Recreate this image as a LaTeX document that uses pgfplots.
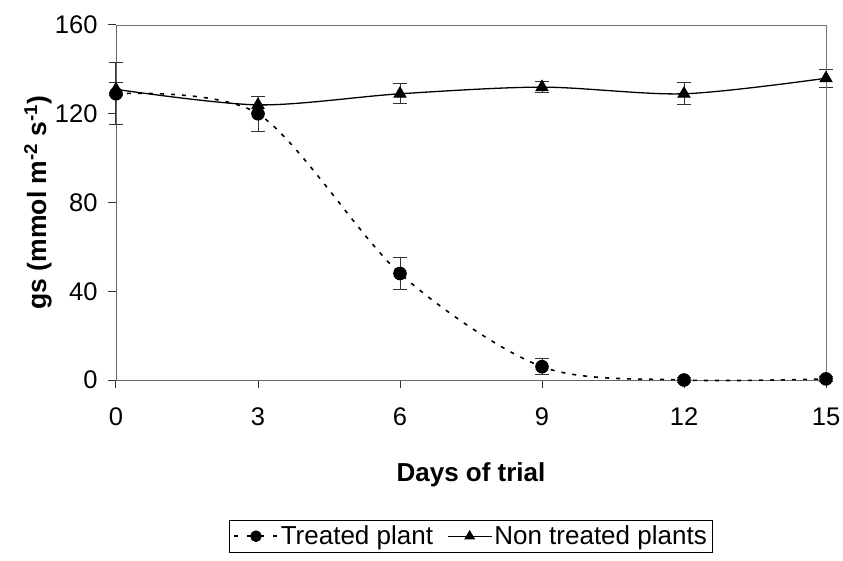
\documentclass[border=0pt]{standalone}
\usepackage{fontspec}
\setmainfont{Liberation Sans}
\usepackage{pgfplots}
\pgfplotsset{compat=1.18}
\begin{document}
\begin{tikzpicture}
\begin{axis}[
  name=ax,
  scale only axis,
  width=710pt, height=355pt,
  xmin=0, xmax=15, ymin=0, ymax=160,
  xtick={0,3,6,9,12,15},
  ytick={0,40,80,120,160},
  tick align=outside,
  tick pos=left,
  major tick length=8pt,
  tick style={line width=1pt, color=black!80},
  axis line style={line width=0.8pt, color=black!60},
  /pgf/number format/assume math mode=true,
  font=\fontsize{25}{29}\selectfont,
  ticklabel style={font=\fontsize{25.5}{29}\selectfont},
  yticklabel style={xshift=-7pt},
  xticklabel style={yshift=-16pt},
  xlabel={\textbf{Days of trial}},
  ylabel={\textbf{gs (mmol m\textsuperscript{-2} s\textsuperscript{-1})}},
  xlabel style={at={(axis description cs:0.5,-0.268)}, anchor=center, font=\fontsize{26}{30}\selectfont},
  ylabel style={at={(axis description cs:-0.11,0.5)}, anchor=center, rotate=0, font=\fontsize{26.5}{30}\selectfont},
  clip=false,
  legend columns=2,
  legend style={
    at={(axis description cs:0.5,-0.44)}, anchor=center,
    draw=black, line width=0.8pt,
    font=\fontsize{26}{30}\selectfont,
    /tikz/every even column/.append style={column sep=12pt},
    inner sep=4pt,
  },
  legend image code/.code={%
    \draw[#1, mark repeat=2, mark phase=2]
      plot coordinates {(0pt,0pt) (22pt,0pt) (44pt,0pt)};%
  },
]
% treated plants
\addplot[
  forget plot,
  black, line width=1.6pt, dash pattern=on 4pt off 7pt, smooth,
  mark=*, mark size=6pt, mark options={solid, fill=black},
  error bars/.cd, y dir=both, y explicit,
  error bar style={line width=1pt, solid, black!80},
  error mark options={rotate=90, mark size=7pt, line width=1pt, black!80},
] coordinates {
  (0,129) +- (0,14)
  (3,120) +- (0,8)
  (6,48)  +- (0,7)
  (9,6)   +- (0,3.5)
  (12,0)  +- (0,1)
  (15,0.5) +- (0,1)
};
% non-treated plants
\addplot[
  forget plot,
  black, line width=1.3pt, smooth,
  mark=triangle*, mark size=6.5pt, mark options={solid, fill=black},
  error bars/.cd, y dir=both, y explicit,
  error bar style={line width=1pt, solid, black!80},
  error mark options={rotate=90, mark size=7pt, line width=1pt, black!80},
] coordinates {
  (0,131)  +- (0,3)
  (3,124)  +- (0,4)
  (6,129)  +- (0,4.5)
  (9,132)  +- (0,2.5)
  (12,129) +- (0,5)
  (15,136) +- (0,4)
};
\addlegendimage{black, line width=1.6pt, dash pattern=on 4pt off 9pt, mark=*, mark size=5pt, mark options={solid, fill=black}}
\addlegendentry{Treated plant}
\addlegendimage{black, line width=1.3pt, mark=triangle*, mark size=5pt, mark options={solid, fill=black}}
\addlegendentry{Non treated plants}
% plot-area frame: top and right edges
\draw[black!55, line width=0.8pt] (axis cs:0,160) -- (axis cs:15,160) -- (axis cs:15,0);
\end{axis}
\pgfresetboundingbox
\path ([xshift=-116pt,yshift=-180pt]ax.south west) rectangle ([xshift=727pt,yshift=380pt]ax.south west);
\end{tikzpicture}
\end{document}
